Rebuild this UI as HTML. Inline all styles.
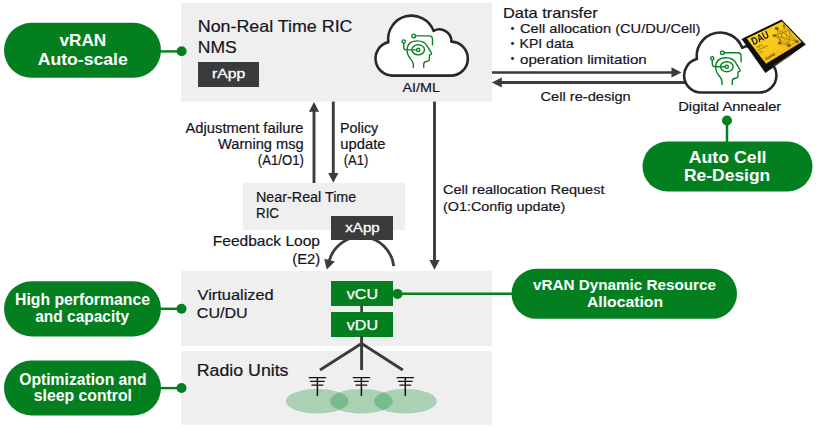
<!DOCTYPE html>
<html lang="en">
<head>
<meta charset="utf-8">
<title>vRAN architecture</title>
<style>
html,body{margin:0;padding:0;background:#fff;}
body{width:816px;height:429px;overflow:hidden;}
svg{display:block;font-family:'Liberation Sans', sans-serif;}
</style>
</head>
<body>
<svg width="816" height="429" viewBox="0 0 816 429">
<rect x="181" y="3" width="311" height="98.6" fill="#efefef"/>
<rect x="243" y="183" width="162" height="47" fill="#efefef"/>
<rect x="181" y="271" width="311" height="75.1" fill="#efefef"/>
<rect x="181" y="351" width="311" height="73.8" fill="#efefef"/>
<rect x="4" y="22.8" width="157.00" height="55.00" rx="27.50" ry="27.50" fill="#047f1f"/>
<line x1="160" y1="51.4" x2="181.5" y2="51.4" stroke="#047f1f" stroke-width="2.4"/>
<circle cx="181.6" cy="51.3" r="5" fill="#047f1f"/>
<rect x="4" y="281.3" width="157.00" height="55.10" rx="27.55" ry="27.55" fill="#047f1f"/>
<line x1="160" y1="308.8" x2="181.5" y2="308.8" stroke="#047f1f" stroke-width="2.4"/>
<circle cx="181.5" cy="308.7" r="5" fill="#047f1f"/>
<rect x="4" y="360.6" width="157.00" height="54.80" rx="27.40" ry="27.40" fill="#047f1f"/>
<line x1="160" y1="388.1" x2="181.5" y2="388.1" stroke="#047f1f" stroke-width="2.4"/>
<circle cx="181.5" cy="388" r="5" fill="#047f1f"/>
<rect x="642.5" y="141.5" width="170.00" height="50.00" rx="25.00" ry="25.00" fill="#047f1f"/>
<line x1="727" y1="120.5" x2="727" y2="142" stroke="#047f1f" stroke-width="2.5"/>
<circle cx="727" cy="120.5" r="5" fill="#047f1f"/>
<rect x="511.5" y="268.8" width="225.50" height="50.00" rx="25.00" ry="25.00" fill="#047f1f"/>
<line x1="397.5" y1="293.8" x2="513" y2="293.8" stroke="#047f1f" stroke-width="2.4"/>
<line x1="314" y1="183" x2="314" y2="110.8" stroke="#3b3b3b" stroke-width="2.9"/><polygon points="308.9,111.8 319.1,111.8 314,102" fill="#3b3b3b"/>
<line x1="333.3" y1="101.6" x2="333.3" y2="174.0" stroke="#3b3b3b" stroke-width="2.9"/><polygon points="328.2,173.0 338.40000000000003,173.0 333.3,182.8" fill="#3b3b3b"/>
<line x1="434.5" y1="101.6" x2="434.5" y2="261.0" stroke="#3b3b3b" stroke-width="2.9"/><polygon points="429.4,260.0 439.6,260.0 434.5,269.8" fill="#3b3b3b"/>
<line x1="492" y1="72.45" x2="672.5" y2="72.45" stroke="#3b3b3b" stroke-width="2.6"/><polygon points="671.5,67.35000000000001 671.5,77.55 681.5,72.45" fill="#3b3b3b"/>
<line x1="686" y1="82.5" x2="500.8" y2="82.5" stroke="#3b3b3b" stroke-width="2.9"/><polygon points="501.8,77.4 501.8,87.6 491.8,82.5" fill="#3b3b3b"/>
<path d="M393.7,266.1 A32.9,32.9 0 0 0 329.4,260.4" fill="none" stroke="#3b3b3b" stroke-width="2.8"/>
<polygon points="324.3,258.7 334.9,261.6 326.7,269.6" fill="#3b3b3b"/>
<rect x="198" y="62" width="61" height="25" fill="#3b3b3b"/>
<rect x="331" y="216" width="62" height="24" fill="#3b3b3b"/>
<line x1="361.6" y1="305" x2="361.6" y2="313" stroke="#3b3b3b" stroke-width="2.6"/>
<rect x="331" y="281" width="62" height="25" fill="#047f1f"/>
<rect x="331" y="312" width="62" height="25" fill="#047f1f"/>
<circle cx="397.5" cy="293.9" r="5" fill="#047f1f"/>
<path d="M361.6,336 V370 M361.6,343.5 L320,370 M361.6,343.5 L402.8,370" fill="none" stroke="#3b3b3b" stroke-width="2.9"/>
<ellipse cx="317.3" cy="401.2" rx="31.4" ry="12.3" fill="#0a8a2c" fill-opacity="0.3"/>
<ellipse cx="361.4" cy="401.2" rx="31.4" ry="12.3" fill="#0a8a2c" fill-opacity="0.3"/>
<ellipse cx="405.4" cy="401.2" rx="31.4" ry="12.3" fill="#0a8a2c" fill-opacity="0.3"/>
<path d="M308.7,377.55 h17.4 M310.09999999999997,381.4 h14.6 M311.5,385.2 h11.8" fill="none" stroke="#111" stroke-width="1.3"/>
<path d="M317.4,377.5 V395.9" fill="none" stroke="#111" stroke-width="1.5"/>
<path d="M352.7,377.55 h17.4 M354.09999999999997,381.4 h14.6 M355.5,385.2 h11.8" fill="none" stroke="#111" stroke-width="1.3"/>
<path d="M361.4,377.5 V395.9" fill="none" stroke="#111" stroke-width="1.5"/>
<path d="M396.6,377.55 h17.4 M398.0,381.4 h14.6 M399.40000000000003,385.2 h11.8" fill="none" stroke="#111" stroke-width="1.3"/>
<path d="M405.3,377.5 V395.9" fill="none" stroke="#111" stroke-width="1.5"/>
<g transform="translate(0.1,0.6)"><path d="M392.40,75.00 A17.0,17.0 0 0 1 388.24,41.52 A23.45,23.45 0 0 1 433.47,30.31 A12.0,12.0 0 0 1 451.30,41.01 A17.0,17.0 0 0 1 450.70,75.00 Z" fill="#fff" stroke="#282828" stroke-width="2.6" stroke-linejoin="round"/><g fill="none" stroke="#0a8427" stroke-width="1.4" stroke-linecap="round" stroke-linejoin="round"><circle cx="413.6" cy="35.3" r="1.8"/><path d="M415.5,35.3 H429 Q432.4,35.3 432.4,38.8 V44.3"/><circle cx="403.6" cy="40.9" r="1.6"/><path d="M403.6,42.6 V46.3 Q403.6,49.3 406.6,49.3 H416.4"/><circle cx="418.1" cy="49.3" r="1.6"/><ellipse cx="418.1" cy="49.2" rx="6.3" ry="5"/><path d="M413.3,67 V64.5 Q413.3,61.6 411,59 Q407,54.6 407,50 Q407,40.3 417.4,40.3 Q424.5,40.3 427.6,46.2 L431.4,52.6 Q431.8,53.9 429.3,54.4 V58.5 Q429.3,60.8 426.6,60.8 Q423.6,61 423.6,64 V67"/></g></g>
<g transform="translate(308.7,17.5)"><path d="M392.40,75.00 A17.0,17.0 0 0 1 388.24,41.52 A23.45,23.45 0 0 1 433.47,30.31 A12.0,12.0 0 0 1 451.30,41.01 A17.0,17.0 0 0 1 450.70,75.00 Z" fill="#fff" stroke="#282828" stroke-width="2.6" stroke-linejoin="round"/><g fill="none" stroke="#0a8427" stroke-width="1.4" stroke-linecap="round" stroke-linejoin="round"><circle cx="413.6" cy="35.3" r="1.8"/><path d="M415.5,35.3 H429 Q432.4,35.3 432.4,38.8 V44.3"/><circle cx="403.6" cy="40.9" r="1.6"/><path d="M403.6,42.6 V46.3 Q403.6,49.3 406.6,49.3 H416.4"/><circle cx="418.1" cy="49.3" r="1.6"/><ellipse cx="418.1" cy="49.2" rx="6.3" ry="5"/><path d="M413.3,67 V64.5 Q413.3,61.6 411,59 Q407,54.6 407,50 Q407,40.3 417.4,40.3 Q424.5,40.3 427.6,46.2 L431.4,52.6 Q431.8,53.9 429.3,54.4 V58.5 Q429.3,60.8 426.6,60.8 Q423.6,61 423.6,64 V67"/></g></g>
<defs><linearGradient id="gold" x1="0" y1="0" x2="1" y2="1"><stop offset="0" stop-color="#ffd91c"/><stop offset="0.55" stop-color="#f7c61c"/><stop offset="1" stop-color="#e9a91b"/></linearGradient></defs>
<g style="filter:saturate(1)"><polygon points="741.5,39 781.6,19.6 805.8,44.4 765.4,73" fill="#0e0e0e"/><polygon points="746.8,38.5 782,21.6 801.7,42.1 766,63.8" fill="url(#gold)"/><g stroke="#6b4e05" stroke-width="0.5" fill="none" opacity="0.85"><path d="M789,46 L776.8,28.5 M789,46 L783.8,25.5 M789,46 L774.5,35.6 M789,46 L779.8,43 M789,46 L797,41.6 M789,46 L790,30 M776.8,28.5 L797,41.6 M774.5,35.6 L790,30 M779.8,43 L783.8,25.5 M774.5,35.6 L797,41.6 M776.8,28.5 L779.8,43 M783.8,25.5 L797,41.6"/></g><g fill="#7d5c0a"><ellipse cx="776.8" cy="28.5" rx="1.9" ry="1.4"/><ellipse cx="774.5" cy="35.6" rx="1.9" ry="1.4"/><ellipse cx="779.8" cy="43" rx="2" ry="1.5"/><ellipse cx="789" cy="45.6" rx="1.8" ry="1.6"/><ellipse cx="797" cy="41.6" rx="1.8" ry="1.4"/><circle cx="783.8" cy="25.5" r="1.1"/></g><text transform="translate(753.4,45.2) rotate(-26)" font-size="10.5" font-weight="bold" fill="#111" textLength="18.3" lengthAdjust="spacingAndGlyphs">DAU</text><text transform="translate(756.6,48.3) rotate(-26)" font-size="2.4" fill="#4a3603">Digital</text><text transform="translate(757.9,50.9) rotate(-26)" font-size="2.4" fill="#4a3603">Annealing</text><text transform="translate(759.2,53.5) rotate(-26)" font-size="2.4" fill="#4a3603">Unit</text><text transform="translate(766.2,60.2) rotate(-30)" font-size="3.4" font-weight="bold" fill="#222" textLength="11" lengthAdjust="spacingAndGlyphs">FUJITSU</text><line x1="773.8" y1="65.6" x2="792.5" y2="54.2" stroke="#8a6a12" stroke-width="1.3" stroke-dasharray="1.1 0.7" opacity="0.8"/></g>
<text x="59.50" y="46.25" font-size="15.6" fill="#ffffff" font-weight="bold" textLength="46.75" lengthAdjust="spacingAndGlyphs">vRAN</text>
<text x="37.75" y="65.00" font-size="15.6" fill="#ffffff" font-weight="bold" textLength="90.00" lengthAdjust="spacingAndGlyphs">Auto-scale</text>
<text x="197.75" y="32.00" font-size="16.5" fill="#15151f" font-weight="normal" textLength="154.75" lengthAdjust="spacingAndGlyphs" stroke="#15151f" stroke-width="0.2">Non-Real Time RIC</text>
<text x="197.75" y="53.00" font-size="16.5" fill="#15151f" font-weight="normal" textLength="39.00" lengthAdjust="spacingAndGlyphs" stroke="#15151f" stroke-width="0.2">NMS</text>
<text x="212.00" y="78.25" font-size="13.5" fill="#ffffff" font-weight="normal" textLength="33.25" lengthAdjust="spacingAndGlyphs" stroke="#fff" stroke-width="0.3">rApp</text>
<text x="402.50" y="92.00" font-size="13.5" fill="#15151f" font-weight="normal" textLength="37.50" lengthAdjust="spacingAndGlyphs" stroke="#15151f" stroke-width="0.2">AI/ML</text>
<text x="503.00" y="18.00" font-size="15" fill="#15151f" font-weight="normal" textLength="94.75" lengthAdjust="spacingAndGlyphs" stroke="#15151f" stroke-width="0.2">Data transfer</text>
<text x="512.6" y="32.5" font-size="14" text-anchor="middle" fill="#15151f" style="font-family:'Liberation Sans','Noto Sans CJK JP',sans-serif">・</text>
<text x="520.00" y="33.00" font-size="13.5" fill="#15151f" font-weight="normal" textLength="180.50" lengthAdjust="spacingAndGlyphs" stroke="#15151f" stroke-width="0.2">Cell allocation (CU/DU/Cell)</text>
<text x="512.6" y="47.7" font-size="14" text-anchor="middle" fill="#15151f" style="font-family:'Liberation Sans','Noto Sans CJK JP',sans-serif">・</text>
<text x="519.50" y="48.20" font-size="13.5" fill="#15151f" font-weight="normal" textLength="54.00" lengthAdjust="spacingAndGlyphs" stroke="#15151f" stroke-width="0.2">KPI data</text>
<text x="512.6" y="63.3" font-size="14" text-anchor="middle" fill="#15151f" style="font-family:'Liberation Sans','Noto Sans CJK JP',sans-serif">・</text>
<text x="520.00" y="63.80" font-size="13.5" fill="#15151f" font-weight="normal" textLength="126.75" lengthAdjust="spacingAndGlyphs" stroke="#15151f" stroke-width="0.2">operation limitation</text>
<text x="540.50" y="100.75" font-size="13.5" fill="#15151f" font-weight="normal" textLength="90.25" lengthAdjust="spacingAndGlyphs" stroke="#15151f" stroke-width="0.2">Cell re-design</text>
<text x="678.25" y="111.00" font-size="13.6" fill="#15151f" font-weight="normal" textLength="103.00" lengthAdjust="spacingAndGlyphs" stroke="#15151f" stroke-width="0.2">Digital Annealer</text>
<text x="688.75" y="162.60" font-size="16.6" fill="#ffffff" font-weight="bold" textLength="77.75" lengthAdjust="spacingAndGlyphs">Auto Cell</text>
<text x="684.00" y="180.60" font-size="16.6" fill="#ffffff" font-weight="bold" textLength="86.25" lengthAdjust="spacingAndGlyphs">Re-Design</text>
<text x="185.50" y="132.50" font-size="14" fill="#15151f" font-weight="normal" textLength="118.00" lengthAdjust="spacingAndGlyphs" stroke="#15151f" stroke-width="0.2">Adjustment failure</text>
<text x="218.00" y="149.00" font-size="14" fill="#15151f" font-weight="normal" textLength="85.75" lengthAdjust="spacingAndGlyphs" stroke="#15151f" stroke-width="0.2">Warning msg</text>
<text x="257.75" y="164.50" font-size="14" fill="#15151f" font-weight="normal" textLength="46.25" lengthAdjust="spacingAndGlyphs" stroke="#15151f" stroke-width="0.2">(A1/O1)</text>
<text x="340.00" y="132.50" font-size="14" fill="#15151f" font-weight="normal" textLength="38.25" lengthAdjust="spacingAndGlyphs" stroke="#15151f" stroke-width="0.2">Policy</text>
<text x="340.25" y="149.00" font-size="14" fill="#15151f" font-weight="normal" textLength="45.25" lengthAdjust="spacingAndGlyphs" stroke="#15151f" stroke-width="0.2">update</text>
<text x="343.75" y="164.50" font-size="14" fill="#15151f" font-weight="normal" textLength="24.50" lengthAdjust="spacingAndGlyphs" stroke="#15151f" stroke-width="0.2">(A1)</text>
<text x="256.00" y="202.00" font-size="14" fill="#15151f" font-weight="normal" textLength="100.25" lengthAdjust="spacingAndGlyphs" stroke="#15151f" stroke-width="0.2">Near-Real Time</text>
<text x="256.00" y="217.50" font-size="14" fill="#15151f" font-weight="normal" textLength="23.00" lengthAdjust="spacingAndGlyphs" stroke="#15151f" stroke-width="0.2">RIC</text>
<text x="345.25" y="232.00" font-size="13.5" fill="#ffffff" font-weight="normal" textLength="34.50" lengthAdjust="spacingAndGlyphs" stroke="#fff" stroke-width="0.3">xApp</text>
<text x="212.75" y="246.25" font-size="15" fill="#15151f" font-weight="normal" textLength="107.25" lengthAdjust="spacingAndGlyphs" stroke="#15151f" stroke-width="0.2">Feedback Loop</text>
<text x="292.25" y="264.00" font-size="15" fill="#15151f" font-weight="normal" textLength="28.00" lengthAdjust="spacingAndGlyphs" stroke="#15151f" stroke-width="0.2">(E2)</text>
<text x="443.00" y="194.00" font-size="13.7" fill="#15151f" font-weight="normal" textLength="161.50" lengthAdjust="spacingAndGlyphs" stroke="#15151f" stroke-width="0.2">Cell reallocation Request</text>
<text x="443.00" y="211.25" font-size="13.7" fill="#15151f" font-weight="normal" textLength="122.25" lengthAdjust="spacingAndGlyphs" stroke="#15151f" stroke-width="0.2">(O1:Config update)</text>
<text x="15.00" y="305.00" font-size="16.1" fill="#ffffff" font-weight="bold" textLength="135.00" lengthAdjust="spacingAndGlyphs">High performance</text>
<text x="35.25" y="322.00" font-size="16.1" fill="#ffffff" font-weight="bold" textLength="93.75" lengthAdjust="spacingAndGlyphs">and capacity</text>
<text x="197.50" y="299.50" font-size="14.5" fill="#15151f" font-weight="normal" textLength="76.25" lengthAdjust="spacingAndGlyphs" stroke="#15151f" stroke-width="0.2">Virtualized</text>
<text x="196.75" y="317.50" font-size="14.5" fill="#15151f" font-weight="normal" textLength="51.00" lengthAdjust="spacingAndGlyphs" stroke="#15151f" stroke-width="0.2">CU/DU</text>
<text x="346.75" y="298.75" font-size="14.5" fill="#ffffff" font-weight="normal" textLength="31.25" lengthAdjust="spacingAndGlyphs" stroke="#fff" stroke-width="0.25">vCU</text>
<text x="346.75" y="330.00" font-size="14.5" fill="#ffffff" font-weight="normal" textLength="31.25" lengthAdjust="spacingAndGlyphs" stroke="#fff" stroke-width="0.25">vDU</text>
<text x="533.00" y="289.50" font-size="14.5" fill="#ffffff" font-weight="bold" textLength="183.00" lengthAdjust="spacingAndGlyphs">vRAN Dynamic Resource</text>
<text x="587.00" y="306.50" font-size="14.5" fill="#ffffff" font-weight="bold" textLength="76.00" lengthAdjust="spacingAndGlyphs">Allocation</text>
<text x="196.75" y="375.50" font-size="15.8" fill="#15151f" font-weight="normal" textLength="91.75" lengthAdjust="spacingAndGlyphs" stroke="#15151f" stroke-width="0.2">Radio Units</text>
<text x="19.25" y="384.50" font-size="16.1" fill="#ffffff" font-weight="bold" textLength="127.25" lengthAdjust="spacingAndGlyphs">Optimization and</text>
<text x="33.75" y="400.75" font-size="16.1" fill="#ffffff" font-weight="bold" textLength="98.25" lengthAdjust="spacingAndGlyphs">sleep control</text>
</svg>
</body>
</html>
